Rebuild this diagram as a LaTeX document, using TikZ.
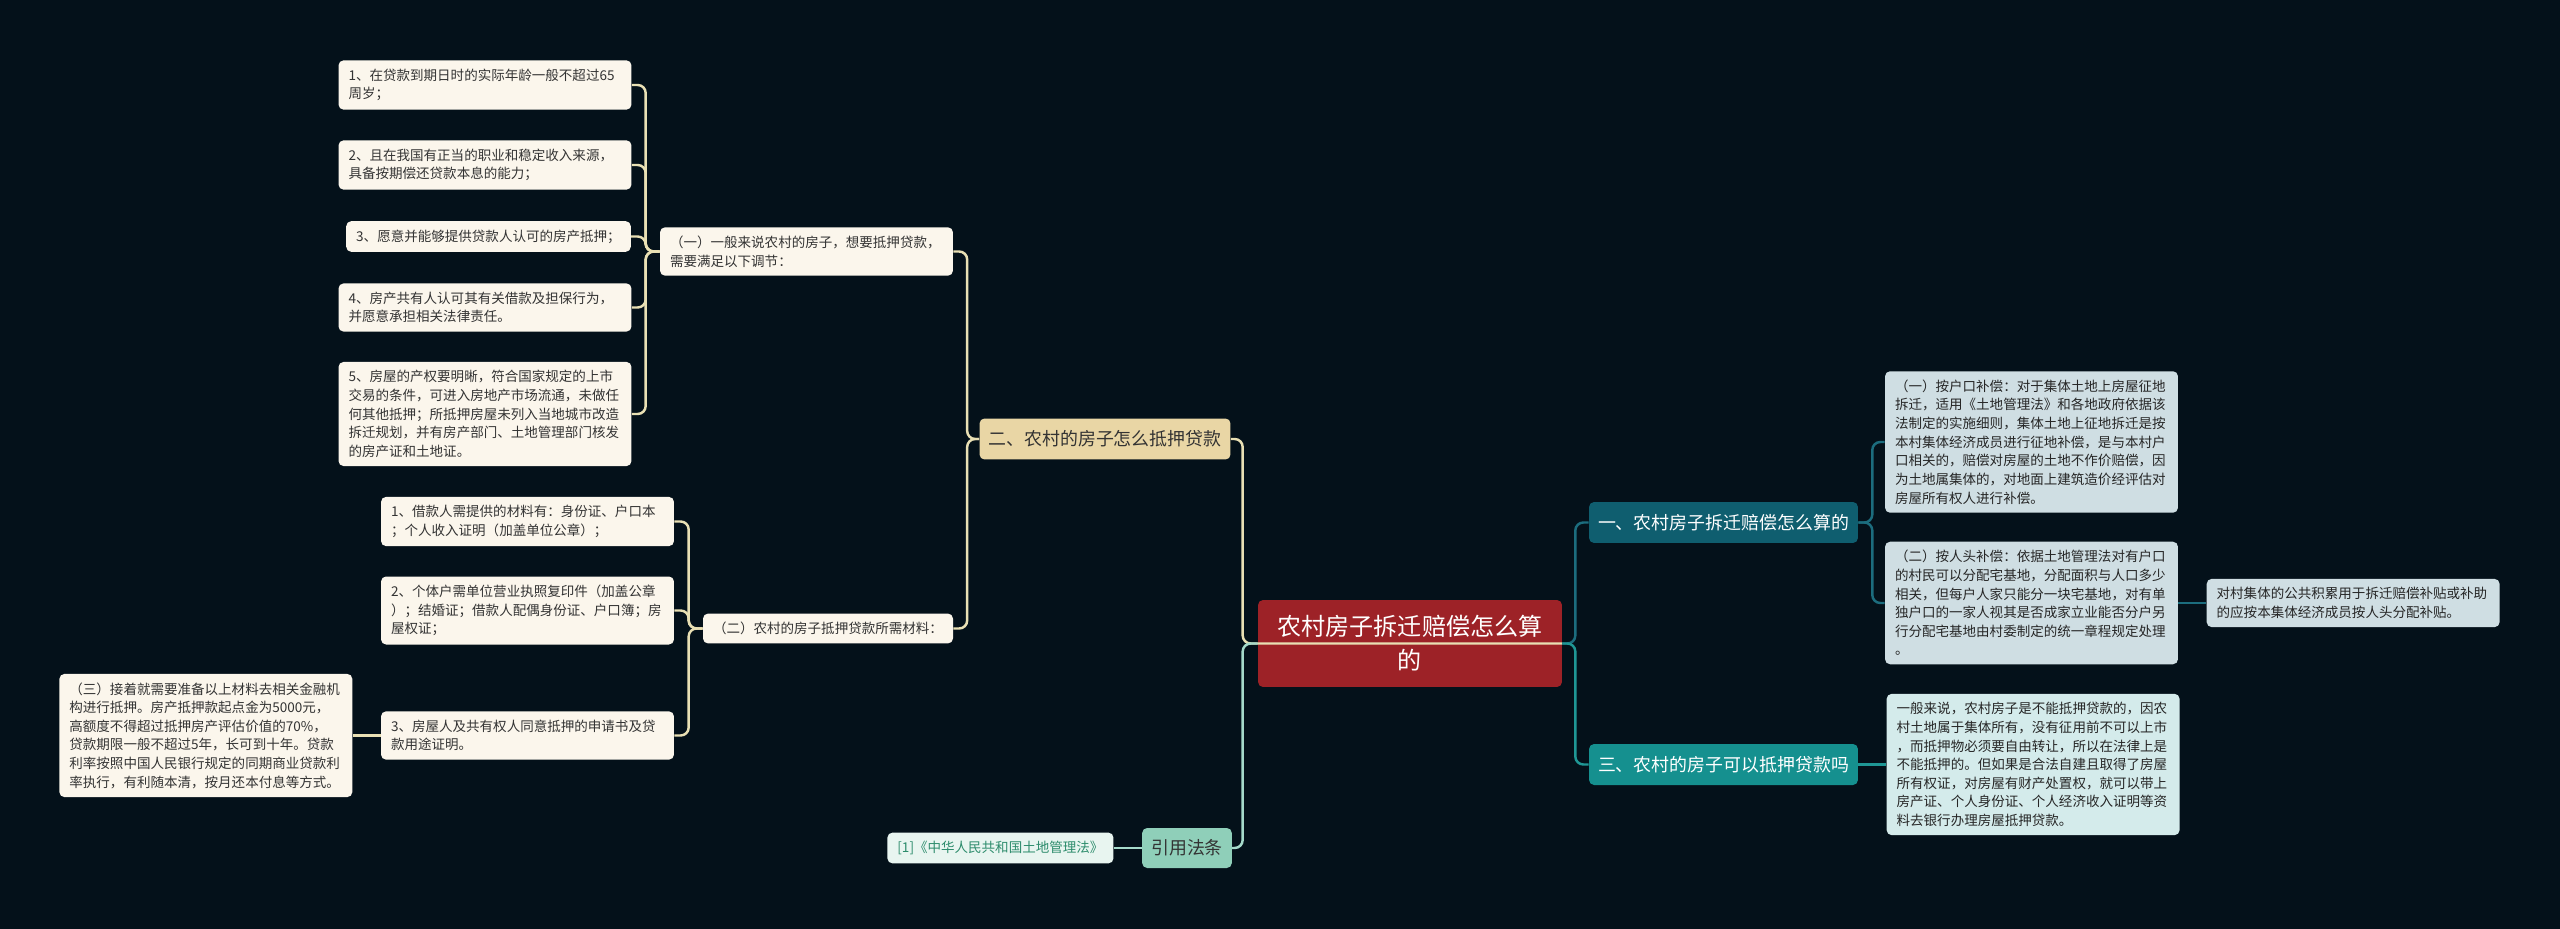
\documentclass[tikz,border=0pt]{standalone}
\usepackage{fontspec}
\setmainfont{Noto Sans CJK SC}
\usepackage{xcolor}
\usepackage{tikz}
\usetikzlibrary{positioning}

\definecolor{bgnavy}{HTML}{04111A}
\definecolor{creamfill}{HTML}{FBF6EC}
\definecolor{creamline}{HTML}{E9E0B4}
\definecolor{tanfill}{HTML}{E9D6A5}
\definecolor{rootred}{HTML}{9D2227}
\definecolor{deepteal}{HTML}{0F5E6F}
\definecolor{deeptealline}{HTML}{1C6D7E}
\definecolor{brightteal}{HTML}{15908F}
\definecolor{brighttealline}{HTML}{1F9795}
\definecolor{greyblue}{HTML}{CFDEE3}
\definecolor{paleaqua}{HTML}{D4EBEB}
\definecolor{mintfill}{HTML}{8FCFB9}
\definecolor{mintline}{HTML}{A5DACA}
\definecolor{refmint}{HTML}{E8F5F0}
\definecolor{refgreen}{HTML}{2D8C6C}
\definecolor{inkgrey}{HTML}{333333}

\begin{document}
\begin{tikzpicture}[
    x=0.02cm, y=-0.02cm,
    node distance=0.56cm,
    box/.style={rounded corners=0.1cm, inner xsep=0.2cm, inner ysep=0.17cm, align=left, text=inkgrey},
    note/.style={box, fill=creamfill, font=\fontsize{7.7}{10.6}\selectfont},
    leaf/.style={note, text width=5.46cm},
    bluenote/.style={leaf, fill=greyblue, text=black!85},
    aquanote/.style={leaf, fill=paleaqua, text=black!85},
    branch/.style={box, inner xsep=0.18cm, minimum height=0.82cm, font=\fontsize{10.2}{13}\selectfont},
    rootbox/.style={box, fill=rootred, text=white, align=center, text width=5.6cm, inner xsep=0.24cm, minimum height=1.74cm, font=\fontsize{13.7}{19.3}\selectfont},
    link/.style={line width=1.4pt, rounded corners=0.16cm},
    creamlink/.style={link, draw=creamline},
    mintlink/.style={link, draw=mintline},
    deeplink/.style={link, draw=deeptealline},
    brightlink/.style={link, draw=brighttealline},
]

% Background and frame
\fill[bgnavy] (0,0) rectangle (2560,929);
\useasboundingbox (0,0) rectangle (2560,929);

% Root
\node[rootbox] (root) at (1410,643.5) {农村房子拆迁赔偿怎么算\\的};

% Left branch: mortgage
\node[branch, fill=tanfill] (sec2) at (1105,439) {二、农村的房子怎么抵押贷款};
\node[leaf] (b1) at (806.5,251.5) {（一）一般来说农村的房子，想要抵押贷款，\\需要满足以下调节：};
\node[note] (b2) at (828,628.5) {（二）农村的房子抵押贷款所需材料：};

% Conditions
\node[leaf] (a1) at (485,85) {1、在贷款到期日时的实际年龄一般不超过65\\周岁；};
\node[leaf] (a2) at (485,165) {2、且在我国有正当的职业和稳定收入来源，\\具备按期偿还贷款本息的能力；};
\node[note] (a3) at (488.5,236.5) {3、愿意并能够提供贷款人认可的房产抵押；};
\node[leaf] (a4) at (485,307.5) {4、房产共有人认可其有关借款及担保行为，\\并愿意承担相关法律责任。};
\node[leaf] (a5) at (485,414) {5、房屋的产权要明晰，符合国家规定的上市\\交易的条件，可进入房地产市场流通，未做任\\何其他抵押；所抵押房屋未列入当地城市改造\\拆迁规划，并有房产部门、土地管理部门核发\\的房产证和土地证。};

% Materials
\node[leaf] (c1) at (527.5,521.5) {1、借款人需提供的材料有：身份证、户口本\\；个人收入证明（加盖单位公章）；};
\node[leaf] (c2) at (527.5,610.5) {2、个体户需单位营业执照复印件（加盖公章\\）；结婚证；借款人配偶身份证、户口簿；房\\屋权证；};
\node[leaf] (c3) at (527.5,735.5) {3、房屋人及共有权人同意抵押的申请书及贷\\款用途证明。};
\node[leaf, left=of c3] (d) {（三）接着就需要准备以上材料去相关金融机\\构进行抵押。房产抵押款起点金为5000元，\\高额度不得超过抵押房产评估价值的70\%，\\贷款期限一般不超过5年，长可到十年。贷款\\利率按照中国人民银行规定的同期商业贷款利\\率执行，有利随本清，按月还本付息等方式。};

% Law reference
\node[branch, fill=mintfill, minimum height=0.8cm] (law) at (1187,848) {引用法条};
\node[note, fill=refmint, text=refgreen, left=of law] (ref) {[1]《中华人民共和国土地管理法》};

% Right branch: compensation
\node[branch, fill=deepteal, text=white] (sec1) at (1723.5,522.5) {一、农村房子拆迁赔偿怎么算的};
\node[bluenote] (e1) at (2031.5,442) {（一）按户口补偿：对于集体土地上房屋征地\\拆迁，适用《土地管理法》和各地政府依据该\\法制定的实施细则，集体土地上征地拆迁是按\\本村集体经济成员进行征地补偿，是与本村户\\口相关的，赔偿对房屋的土地不作价赔偿，因\\为土地属集体的，对地面上建筑造价经评估对\\房屋所有权人进行补偿。};
\node[bluenote] (e2) at (2031.5,603) {（二）按人头补偿：依据土地管理法对有户口\\的村民可以分配宅基地，分配面积与人口多少\\相关，但每户人家只能分一块宅基地，对有单\\独户口的一家人视其是否成家立业能否分户另\\行分配宅基地由村委制定的统一章程规定处理\\。};
\node[bluenote, right=of e2] (f) {对村集体的公共积累用于拆迁赔偿补贴或补助\\的应按本集体经济成员按人头分配补贴。};

% Right branch: can it be mortgaged
\node[branch, fill=brightteal, text=white] (sec3) at (1723.5,764.5) {三、农村的房子可以抵押贷款吗};
\node[aquanote, right=of sec3] (g) {一般来说，农村房子是不能抵押贷款的，因农\\村土地属于集体所有，没有征用前不可以上市\\，而抵押物必须要自由转让，所以在法律上是\\不能抵押的。但如果是合法自建且取得了房屋\\所有权证，对房屋有财产处置权，就可以带上\\房产证、个人身份证、个人经济收入证明等资\\料去银行办理房屋抵押贷款。};

% Edges
\coordinate[left=0.28cm of b1.west] (aspine);
\draw[creamlink] (b1.west) -- (aspine) |- (a1.east);
\draw[creamlink] (b1.west) -- (aspine) |- (a2.east);
\draw[creamlink] (b1.west) -- (aspine) |- (a3.east);
\draw[creamlink] (b1.west) -- (aspine) |- (a4.east);
\draw[creamlink] (b1.west) -- (aspine) |- (a5.east);

\coordinate[left=0.28cm of b2.west] (cspine);
\draw[creamlink] (b2.west) -- (cspine) |- (c1.east);
\draw[creamlink] (b2.west) -- (cspine) |- (c2.east);
\draw[creamlink] (b2.west) -- (cspine) |- (c3.east);
\draw[creamlink] (c3.west) -- (d.east);

\coordinate[left=0.24cm of sec2.west] (bspine);
\draw[creamlink] (sec2.west) -- (bspine) |- (b1.east);
\draw[creamlink] (sec2.west) -- (bspine) |- (b2.east);

\coordinate[left=0.3cm of root.west] (lspine);
\draw[creamlink] (root.east) -- (lspine) |- (sec2.east);
\draw[mintlink] (root.west) -- (lspine) |- (law.east);
\draw[mintlink] (law.west) -- (ref.east);

\coordinate[right=0.26cm of root.east] (rspine);
\draw[deeplink] (root.east) -- (rspine) |- (sec1.west);
\draw[brightlink] (root.east) -- (rspine) |- (sec3.west);

\coordinate[right=0.28cm of sec1.east] (espine);
\draw[deeplink] (sec1.east) -- (espine) |- (e1.west);
\draw[deeplink] (sec1.east) -- (espine) |- (e2.west);
\draw[deeplink] (e2.east) -- (f.west);
\draw[brightlink] (sec3.east) -- (g.west);

\end{tikzpicture}
\end{document}
